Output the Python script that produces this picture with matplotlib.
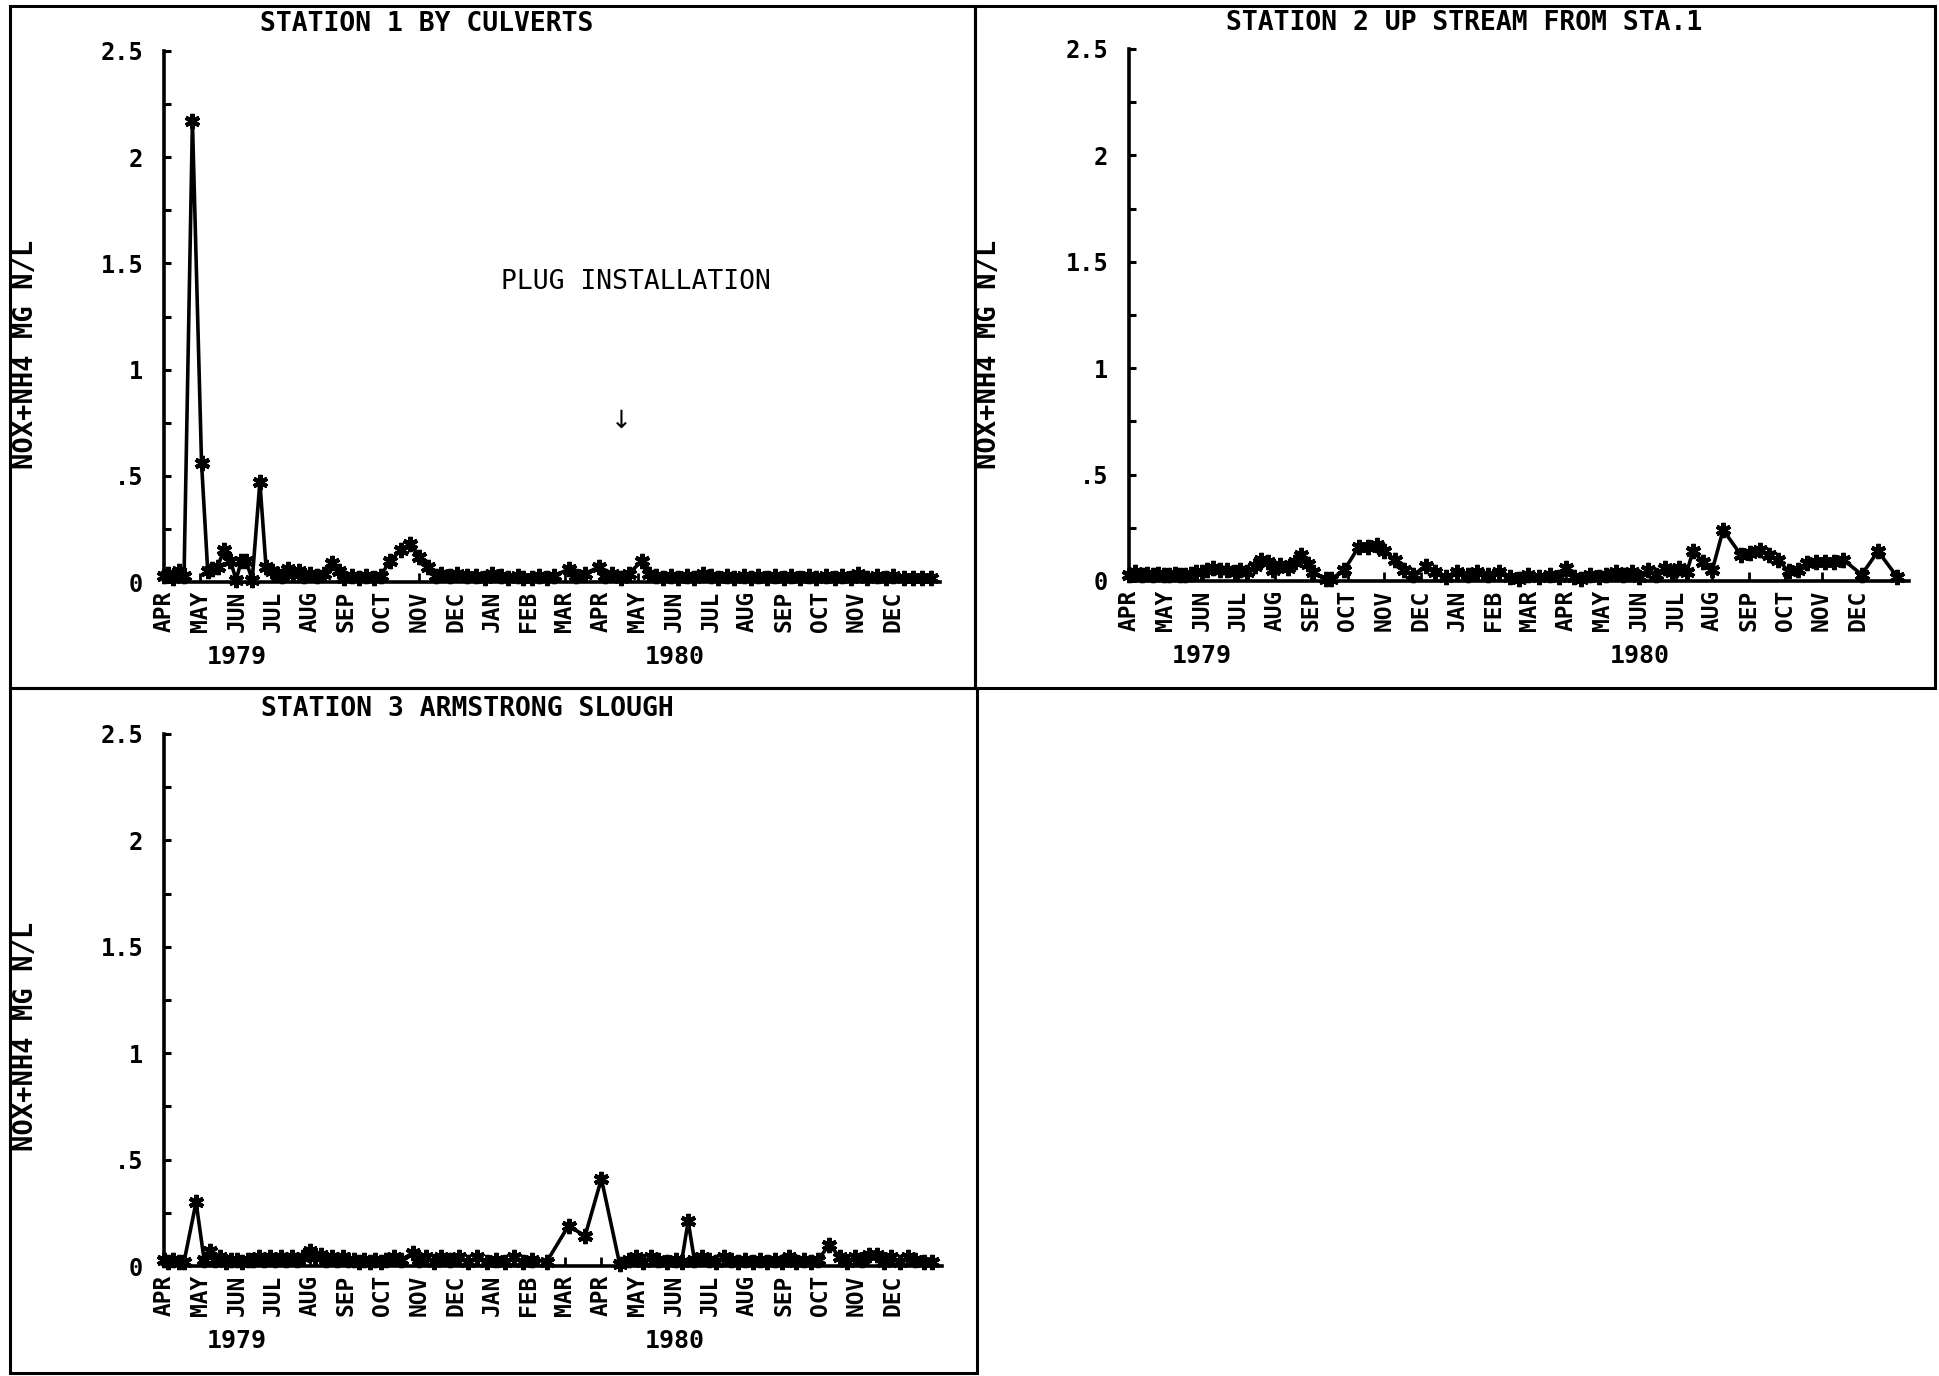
import matplotlib
matplotlib.use("Agg")
import matplotlib.pyplot as plt
from matplotlib.patches import Rectangle
from matplotlib.ticker import MultipleLocator, FixedLocator

# ---------------------------------------------------------------- data
# x positions are months after 1 April 1979 (0 = APR 1979, 12 = APR 1980)
month_labels = ["APR", "MAY", "JUN", "JUL", "AUG", "SEP", "OCT", "NOV", "DEC",
                "JAN", "FEB", "MAR", "APR", "MAY", "JUN", "JUL", "AUG", "SEP",
                "OCT", "NOV", "DEC"]
year_labels = ["1979", "1980"]
year_positions = [2.0, 14.0]
y_tick_values = [0, 0.5, 1.0, 1.5, 2.0, 2.5]
y_tick_labels = ["0", ".5", "1", "1.5", "2", "2.5"]

titles = ["STATION 1 BY CULVERTS",
          "STATION 2 UP STREAM FROM STA.1",
          "STATION 3 ARMSTRONG SLOUGH"]
y_label = "NOX+NH4 MG N/L"

s1_month = [0.00, 0.12, 0.25, 0.40, 0.55, 0.78, 1.03, 1.20, 1.33, 1.47,
            1.64, 1.82, 1.98, 2.12, 2.25, 2.42, 2.63, 2.80, 2.95, 3.10,
            3.25, 3.40, 3.55, 3.70, 3.85, 4.00, 4.20, 4.40, 4.62, 4.80,
            4.95, 5.15, 5.35, 5.55, 5.75, 5.95, 6.20, 6.50, 6.75, 7.00,
            7.25, 7.45, 7.60, 7.85, 8.05, 8.30, 8.55, 8.80, 9.00, 9.25,
            9.45, 9.70, 9.85, 10.10, 10.30, 10.50, 10.70, 11.10, 11.30, 11.55,
            11.93, 12.10, 12.30, 12.55, 12.75, 13.12, 13.30, 13.50, 13.70, 13.90,
            14.10, 14.35, 14.55, 14.80, 15.00, 15.20, 15.45, 15.65, 15.90, 16.10,
            16.30, 16.55, 16.75, 17.00, 17.20, 17.45, 17.70, 17.90, 18.15, 18.40,
            18.60, 18.85, 19.05, 19.30, 19.55, 19.80, 20.00, 20.30, 20.55, 20.80,
            21.05]
s1_value = [0.03, 0.04, 0.02, 0.05, 0.03, 2.17, 0.56, 0.05, 0.06, 0.07,
            0.15, 0.10, 0.01, 0.10, 0.10, 0.01, 0.47, 0.07, 0.05, 0.04,
            0.03, 0.06, 0.04, 0.05, 0.03, 0.04, 0.03, 0.04, 0.09, 0.05,
            0.02, 0.03, 0.02, 0.03, 0.02, 0.03, 0.10, 0.15, 0.18, 0.12,
            0.07, 0.03, 0.04, 0.03, 0.04, 0.03, 0.03, 0.02, 0.04, 0.03,
            0.02, 0.03, 0.02, 0.02, 0.03, 0.02, 0.03, 0.06, 0.03, 0.04,
            0.07, 0.03, 0.04, 0.02, 0.04, 0.10, 0.04, 0.03, 0.02, 0.03,
            0.02, 0.03, 0.02, 0.04, 0.03, 0.02, 0.03, 0.02, 0.03, 0.02,
            0.03, 0.02, 0.03, 0.02, 0.03, 0.02, 0.03, 0.02, 0.03, 0.02,
            0.03, 0.02, 0.04, 0.02, 0.03, 0.02, 0.03, 0.02, 0.02, 0.02,
            0.02]

s2_month = [0.00, 0.16, 0.35, 0.50, 0.65, 0.80, 0.95, 1.10, 1.25, 1.40,
            1.55, 1.70, 1.85, 2.00, 2.15, 2.30, 2.50, 2.70, 2.90, 3.05,
            3.25, 3.45, 3.62, 3.80, 3.95, 4.15, 4.35, 4.55, 4.73, 4.90,
            5.05, 5.40, 5.55, 5.90, 6.30, 6.55, 6.80, 7.00, 7.30, 7.55,
            7.80, 8.15, 8.40, 8.70, 9.00, 9.30, 9.55, 9.85, 10.15, 10.45,
            10.70, 10.95, 11.25, 11.55, 11.80, 12.00, 12.20, 12.40, 12.65, 12.90,
            13.10, 13.35, 13.55, 13.80, 14.00, 14.25, 14.45, 14.70, 14.90, 15.10,
            15.30, 15.47, 15.75, 16.00, 16.30, 16.80, 17.05, 17.30, 17.55, 17.80,
            18.10, 18.35, 18.60, 18.85, 19.10, 19.35, 19.60, 20.10, 20.55, 21.07]
s2_value = [0.03, 0.04, 0.03, 0.035, 0.03, 0.035, 0.03, 0.03, 0.035, 0.03,
            0.03, 0.035, 0.04, 0.04, 0.05, 0.06, 0.05, 0.05, 0.04, 0.05,
            0.04, 0.07, 0.10, 0.09, 0.05, 0.075, 0.06, 0.09, 0.12, 0.08,
            0.04, 0.01, 0.01, 0.05, 0.16, 0.16, 0.17, 0.14, 0.10, 0.05,
            0.03, 0.07, 0.04, 0.02, 0.04, 0.03, 0.04, 0.03, 0.04, 0.02,
            0.01, 0.03, 0.02, 0.03, 0.02, 0.06, 0.02, 0.01, 0.03, 0.02,
            0.03, 0.04, 0.03, 0.04, 0.02, 0.05, 0.03, 0.06, 0.04, 0.06,
            0.04, 0.14, 0.09, 0.05, 0.24, 0.12, 0.13, 0.146, 0.12, 0.10,
            0.045, 0.05, 0.083, 0.09, 0.09, 0.09, 0.10, 0.03, 0.14, 0.02]

s3_month = [0.00, 0.12, 0.25, 0.40, 0.55, 0.88, 1.10, 1.26, 1.40, 1.55,
            1.70, 1.85, 2.00, 2.15, 2.30, 2.45, 2.60, 2.75, 2.90, 3.05,
            3.20, 3.35, 3.50, 3.65, 3.80, 4.00, 4.15, 4.30, 4.45, 4.60,
            4.75, 4.90, 5.05, 5.20, 5.35, 5.50, 5.65, 5.80, 5.95, 6.10,
            6.30, 6.50, 6.83, 7.00, 7.20, 7.40, 7.60, 7.85, 8.10, 8.35,
            8.60, 8.85, 9.10, 9.35, 9.60, 9.85, 10.10, 10.50, 11.10, 11.55,
            12.00, 12.50, 12.75, 12.95, 13.15, 13.35, 13.55, 13.80, 14.05, 14.20,
            14.38, 14.55, 14.75, 14.95, 15.15, 15.35, 15.55, 15.75, 15.95, 16.15,
            16.35, 16.55, 16.75, 16.95, 17.15, 17.35, 17.55, 17.75, 17.95, 18.25,
            18.55, 18.75, 18.95, 19.15, 19.35, 19.55, 19.75, 19.95, 20.20, 20.40,
            20.60, 20.85, 21.07]
s3_value = [0.03, 0.02, 0.03, 0.02, 0.02, 0.30, 0.03, 0.07, 0.03, 0.04,
            0.02, 0.03, 0.03, 0.02, 0.03, 0.03, 0.04, 0.03, 0.04, 0.03,
            0.04, 0.03, 0.04, 0.03, 0.04, 0.07, 0.04, 0.05, 0.03, 0.04,
            0.03, 0.04, 0.03, 0.03, 0.02, 0.03, 0.02, 0.03, 0.02, 0.03,
            0.04, 0.03, 0.06, 0.03, 0.04, 0.02, 0.04, 0.03, 0.04, 0.02,
            0.04, 0.02, 0.03, 0.02, 0.04, 0.02, 0.03, 0.02, 0.19, 0.14,
            0.41, 0.01, 0.03, 0.04, 0.02, 0.04, 0.03, 0.02, 0.03, 0.02,
            0.21, 0.03, 0.04, 0.03, 0.02, 0.04, 0.03, 0.02, 0.03, 0.02,
            0.03, 0.02, 0.03, 0.02, 0.04, 0.02, 0.03, 0.02, 0.03, 0.10,
            0.04, 0.02, 0.04, 0.03, 0.05, 0.05, 0.02, 0.04, 0.02, 0.04,
            0.03, 0.02, 0.02]

plug_note = "PLUG INSTALLATION"
plug_month = 12.54
plug_level = 0.76

# ---------------------------------------------------------------- layout
W, H = 1939, 1376
MONTH_PX = 36.45
FONT = "DejaVu Sans Mono"

fig = plt.figure(figsize=(W / 100, H / 100), dpi=100)
fig.patch.set_facecolor("white")


def fx(px):
    return px / W


def fy(py):
    return 1 - py / H


def add_panel(left_px, top_px, bottom_px, xmax):
    width_px = xmax * MONTH_PX
    ax = fig.add_axes([fx(left_px), fy(bottom_px),
                       width_px / W, (bottom_px - top_px) / H])
    ax.set_xlim(0, xmax)
    ax.set_ylim(0, 2.5)
    for side in ("top", "right"):
        ax.spines[side].set_visible(False)
    for side in ("left", "bottom"):
        ax.spines[side].set_linewidth(2.6)
    ax.set_facecolor("none")

    ax.yaxis.set_major_locator(FixedLocator(y_tick_values))
    ax.set_yticklabels(y_tick_labels, fontfamily=FONT, fontweight="bold",
                       fontsize=17)
    ax.yaxis.set_minor_locator(MultipleLocator(0.25))
    ax.tick_params(axis="y", which="both", direction="in", length=5,
                   width=2.2, pad=15)

    ax.set_xticks(range(len(month_labels)))
    ax.set_xticklabels(month_labels, rotation=90, fontfamily=FONT,
                       fontweight="bold", fontsize=16.5)
    ax.tick_params(axis="x", direction="in", length=6.5, width=2.0, pad=6)

    for yr, pos in zip(year_labels, year_positions):
        ax.annotate(yr, xy=(pos, 0), xycoords="data",
                    xytext=(0, -75), textcoords="offset pixels",
                    ha="center", va="center", fontfamily=FONT,
                    fontweight="bold", fontsize=18)
    return ax


def draw_series(ax, xs, ys):
    ax.plot(xs, ys, color="black", lw=2.6, marker=(6, 2, 0), ms=11,
            mew=3.0, clip_on=False, zorder=3)


# panel frames
for (x0, y0, x1, y1) in [(10, 6, 975, 688), (975, 6, 1935, 688),
                         (10, 688, 977, 1373)]:
    fig.add_artist(Rectangle((fx(x0), fy(y1)), (x1 - x0) / W, (y1 - y0) / H,
                             transform=fig.transFigure, fill=False,
                             edgecolor="black", linewidth=2.2))

ax1 = add_panel(164, 51, 582, 21.3)
ax2 = add_panel(1129, 49, 581, 21.4)
ax3 = add_panel(164, 734, 1266, 21.35)

draw_series(ax1, s1_month, s1_value)
draw_series(ax2, s2_month, s2_value)
draw_series(ax3, s3_month, s3_value)

# titles and axis labels
for text, (px, py) in zip(titles, [(427, 24), (1464, 23), (467, 709)]):
    fig.text(fx(px), fy(py), text, ha="center", va="center",
             fontfamily=FONT, fontweight="bold", fontsize=19)

for (px, py) in [(26, 354), (989, 354), (26, 1036)]:
    fig.text(fx(px), fy(py), y_label, rotation=90, ha="center",
             va="center", fontfamily=FONT, fontweight="bold", fontsize=19.5)

# plug installation note on station 1
fig.text(fx(636), fy(282), plug_note, ha="center", va="center",
         fontfamily=FONT, fontweight="normal", fontsize=19)
ax1.text(plug_month, plug_level, "\u2193", ha="center", va="center",
         fontfamily="DejaVu Sans", fontsize=18)

fig.savefig("out.png", dpi=100, facecolor="white")
